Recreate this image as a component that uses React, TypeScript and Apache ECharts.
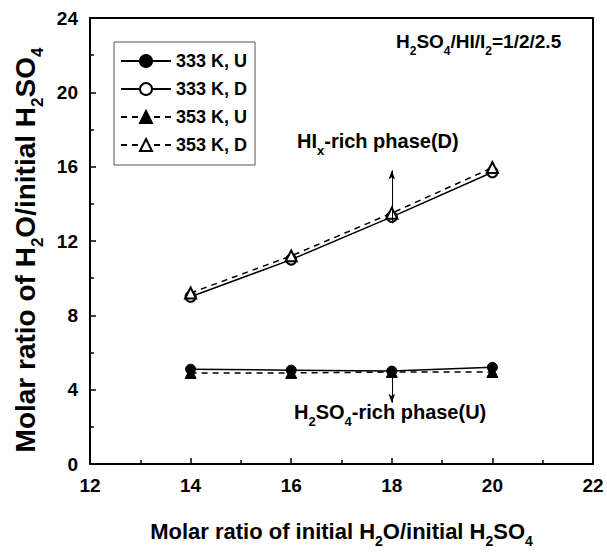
import React, { useEffect, useRef } from "react";
import * as echarts from "echarts";

const xValues = [14, 16, 18, 20];
const u333 = [5.1, 5.05, 5.0, 5.2];
const d333 = [9.0, 11.0, 13.3, 15.7];
const u353 = [4.9, 4.9, 4.95, 4.95];
const d353 = [9.2, 11.2, 13.5, 15.95];
const arrowD = [[18, 12.95], [18, 15.8]];
const arrowU = [[18, 5.0], [18, 3.3]];

const FONT = "Liberation Sans";

const pairs = (ys: number[]) => xValues.map((x, i) => [x, ys[i]]);

const richBase = (size: number, sub: number) => ({
  a: { fontFamily: FONT, fontWeight: "bold", fontSize: size, color: "#000", lineHeight: size + 12, verticalAlign: "middle" },
  s: { fontFamily: FONT, fontWeight: "bold", fontSize: sub, color: "#000", lineHeight: sub, verticalAlign: "bottom" },
});

export default function App() {
  const ref = useRef<HTMLDivElement>(null);
  useEffect(() => {
    if (!ref.current) return;
    const chart = echarts.init(ref.current, null, { renderer: "svg" });
    const lineSeries = (name: string, data: number[], symbol: string, dashed: boolean, extra: any = {}) => ({
      name,
      type: "line",
      data: pairs(data),
      symbol,
      symbolSize: symbol.includes("riangle") ? 11 : 10,
      showSymbol: true,
      lineStyle: { color: "#000", width: 1.5, type: dashed ? [6, 5] : "solid" },
      itemStyle: { color: "#000", borderColor: "#000", borderWidth: 1 },
      z: 3,
      ...extra,
    });
    const arrowMark = (pts: number[][]) => ({
      silent: true,
      symbol: ["none", "arrow"],
      symbolSize: [5, 9],
      label: { show: false },
      lineStyle: { color: "#000", width: 1, type: "solid" },
      data: [[{ coord: pts[0] }, { coord: pts[1] }]],
    });
    chart.setOption({
      animation: false,
      backgroundColor: "#fff",
      grid: { left: 90, top: 18, right: 14, bottom: 83, containLabel: false },
      legend: {
        left: 114,
        top: 42,
        orient: "vertical",
        padding: [10, 8, 11, 6],
        itemGap: 10,
        itemWidth: 50,
        itemHeight: 15,
        borderColor: "#555",
        borderWidth: 1,
        backgroundColor: "#fff",
        textStyle: { fontFamily: FONT, fontWeight: "bold", fontSize: 18, color: "#000" },
        data: ["333 K, U", "333 K, D", "353 K, U", "353 K, D"],
      },
      xAxis: [
        {
          type: "value",
          min: 12,
          max: 22,
          interval: 2,
          name: "{a|Molar ratio of initial H}{s|2}{a|O/initial H}{s|2}{a|SO}{s|4}",
          nameLocation: "middle",
          nameGap: 50,
          nameTextStyle: { rich: richBase(22, 14) },
          axisLine: { show: true, lineStyle: { color: "#000", width: 2 } },
          axisTick: { show: true, inside: true, length: 6, lineStyle: { color: "#000", width: 1.5 } },
          minorTick: { show: true, splitNumber: 2, length: 4, lineStyle: { color: "#000", width: 1.5 } },
          axisLabel: { fontFamily: FONT, fontWeight: "bold", fontSize: 19, color: "#000", margin: 12 },
          splitLine: { show: false },
        },
        {
          type: "value",
          position: "top",
          min: 12,
          max: 22,
          axisLine: { show: true, onZero: false, lineStyle: { color: "#000", width: 2 } },
          axisTick: { show: false },
          axisLabel: { show: false },
          splitLine: { show: false },
        },
      ],
      yAxis: [
        {
          type: "value",
          min: 0,
          max: 24,
          interval: 4,
          name: "{a|Molar ratio of H}{s|2}{a|O/initial H}{s|2}{a|SO}{s|4}",
          nameLocation: "middle",
          nameRotate: 90,
          nameGap: 42,
          nameTextStyle: { rich: richBase(28, 17), padding: [0, 18, 0, 0] },
          axisLine: { show: true, lineStyle: { color: "#000", width: 2 } },
          axisTick: { show: true, inside: true, length: 6, lineStyle: { color: "#000", width: 1.5 } },
          minorTick: { show: true, splitNumber: 2, length: 4, lineStyle: { color: "#000", width: 1.5 } },
          axisLabel: { fontFamily: FONT, fontWeight: "bold", fontSize: 19, color: "#000", margin: 12 },
          splitLine: { show: false },
        },
        {
          type: "value",
          position: "right",
          min: 0,
          max: 24,
          axisLine: { show: true, onZero: false, lineStyle: { color: "#000", width: 2 } },
          axisTick: { show: false },
          axisLabel: { show: false },
          splitLine: { show: false },
        },
      ],
      series: [
        lineSeries("333 K, U", u333, "circle", false, { markLine: arrowMark(arrowU) }),
        lineSeries("333 K, D", d333, "emptyCircle", false, { markLine: arrowMark(arrowD) }),
        lineSeries("353 K, U", u353, "triangle", true),
        lineSeries("353 K, D", d353, "emptyTriangle", true),
      ],
      graphic: [
        {
          type: "text",
          left: 396,
          top: 32,
          style: {
            text: "{a|H}{s|2}{a|SO}{s|4}{a|/HI/I}{s|2}{a|=1/2/2.5}",
            rich: richBase(19, 12),
          },
        },
        {
          type: "text",
          left: 297,
          top: 131,
          style: {
            text: "{a|HI}{s|x}{a|-rich phase(D)}",
            rich: richBase(20, 13),
          },
        },
        {
          type: "text",
          left: 294,
          top: 402,
          style: {
            text: "{a|H}{s|2}{a|SO}{s|4}{a|-rich phase(U)}",
            rich: richBase(20, 13),
          },
        },
      ],
    });
    return () => chart.dispose();
  }, []);
  return <div ref={ref} style={{ width: 607, height: 553, position: "absolute", left: 0, top: 0 }} />;
}
